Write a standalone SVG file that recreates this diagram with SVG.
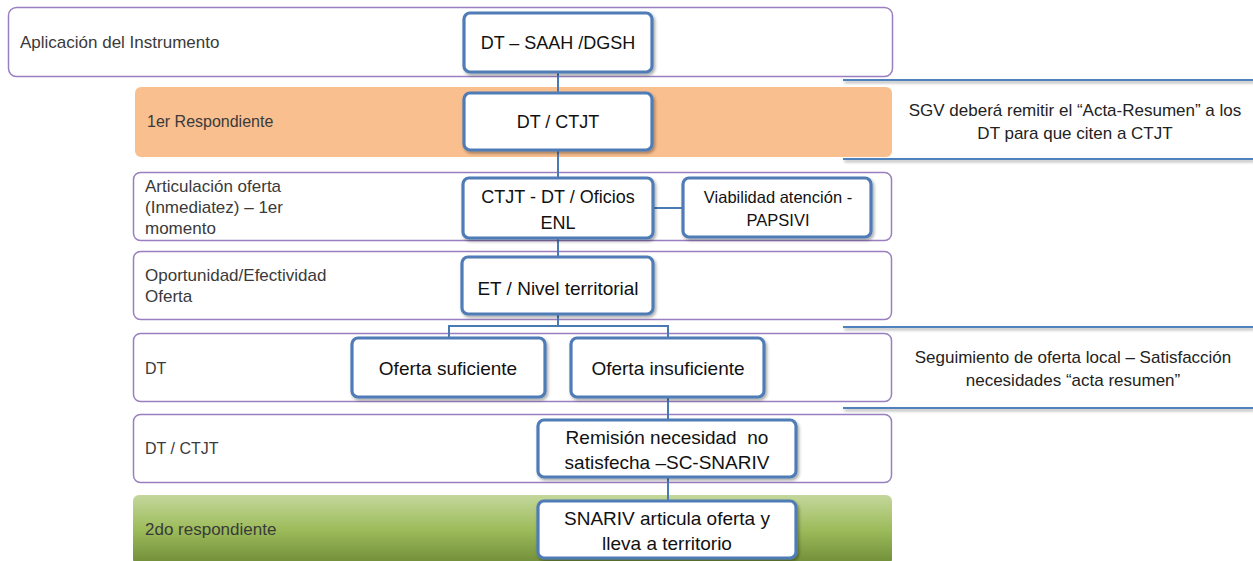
<svg xmlns="http://www.w3.org/2000/svg" width="1253" height="561" viewBox="0 0 1253 561">
<style>
.band{fill:#fff;stroke:#9a7fc0;stroke-width:1.5}
.lbl{font-family:"Liberation Sans",Arial,sans-serif;font-size:17px;fill:#3a3a3a}
.box{fill:#fff;stroke:#4f7cb6;stroke-width:3.2}
.bt{font-family:"Liberation Sans",Arial,sans-serif;font-size:19px;fill:#111;text-anchor:middle;white-space:pre}
.bs{font-size:18px}
.bv{font-size:16.5px}
.note{font-family:"Liberation Sans",Arial,sans-serif;font-size:17px;fill:#222;text-anchor:middle}
.con{fill:none;stroke:#4a7ab4;stroke-width:2}
.rl{stroke:#4f81bd;stroke-width:2.2}
</style>
<defs>
<filter id="sh" x="-10%" y="-10%" width="130%" height="140%">
<feDropShadow dx="1.5" dy="2" stdDeviation="1.5" flood-color="#000" flood-opacity="0.35"/>
</filter>
<linearGradient id="gr" x1="0" y1="0" x2="0" y2="1">
<stop offset="0" stop-color="#c4d79c"/>
<stop offset="0.5" stop-color="#9cbb5a"/>
<stop offset="1" stop-color="#6f8c37"/>
</linearGradient>
</defs>

<g id="band-aplicacion">
<rect class="band" x="8.5" y="7.5" width="884" height="69" rx="8"/>
<text class="lbl" x="20" y="48">Aplicación del Instrumento</text>
</g>
<g id="band-1er">
<rect x="135" y="87" width="757" height="70" rx="6" fill="#f9bf8f"/>
<text class="lbl" x="147" y="127" style="font-size:16px">1er Respondiente</text>
</g>
<g id="band-articulacion">
<rect class="band" x="133.5" y="172.5" width="758" height="68" rx="7"/>
<text class="lbl" x="145" y="192">Articulación oferta</text>
<text class="lbl" x="145" y="213">(Inmediatez) – 1er</text>
<text class="lbl" x="145" y="234">momento</text>
</g>
<g id="band-oportunidad">
<rect class="band" x="133.5" y="251.5" width="758" height="68" rx="7"/>
<text class="lbl" x="145" y="281">Oportunidad/Efectividad</text>
<text class="lbl" x="145" y="302">Oferta</text>
</g>
<g id="band-dt">
<rect class="band" x="133.5" y="333.5" width="758" height="68" rx="7"/>
<text class="lbl" x="145" y="374" style="font-size:16px">DT</text>
</g>
<g id="band-dtctjt">
<rect class="band" x="133.5" y="414.5" width="758" height="68" rx="7"/>
<text class="lbl" x="145" y="454" style="font-size:16px">DT / CTJT</text>
</g>
<g id="band-2do">
<rect x="133" y="495" width="759" height="70" rx="6" fill="url(#gr)"/>
<text class="lbl" x="145" y="535">2do respondiente</text>
</g>

<g id="connectors">
<line class="con" x1="558" y1="72" x2="558" y2="93"/>
<line class="con" x1="558" y1="150" x2="558" y2="178"/>
<line class="con" x1="653" y1="208" x2="683" y2="208"/>
<line class="con" x1="558" y1="238" x2="558" y2="257"/>
<polyline class="con" points="558,314 558,326"/>
<polyline class="con" points="449,338 449,326 668,326 668,338"/>
<line class="con" x1="668" y1="397" x2="668" y2="420"/>
<line class="con" x1="668" y1="477" x2="668" y2="501"/>
</g>

<g id="note-lines" filter="url(#sh)">
<line class="rl" x1="843" y1="80" x2="1253" y2="80"/>
<line class="rl" x1="843" y1="159" x2="1253" y2="159"/>
<line class="rl" x1="843" y1="327" x2="1253" y2="327"/>
<line class="rl" x1="843" y1="408" x2="1253" y2="408"/>
</g>
<g id="note-sgv">
<text class="note" x="1075" y="116">SGV deberá remitir el “Acta-Resumen” a los</text>
<text class="note" x="1075" y="139">DT para que citen a CTJT</text>
</g>
<g id="note-seguimiento">
<text class="note" x="1073" y="363">Seguimiento de oferta local – Satisfacción</text>
<text class="note" x="1073" y="386">necesidades “acta resumen”</text>
</g>

<g id="n-dt-saah">
<rect class="box" x="464" y="13" width="188" height="59" rx="6" filter="url(#sh)"/>
<text class="bt bs" x="558" y="49">DT – SAAH /DGSH</text>
</g>
<g id="n-dt-ctjt">
<rect class="box" x="464" y="93" width="188" height="57" rx="6" filter="url(#sh)"/>
<text class="bt bs" x="558" y="128">DT / CTJT</text>
</g>
<g id="n-ctjt-oficios">
<rect class="box" x="463" y="178" width="190" height="60" rx="6" filter="url(#sh)"/>
<text class="bt bs" x="558" y="203">CTJT - DT / Oficios</text>
<text class="bt bs" x="558" y="229">ENL</text>
</g>
<g id="n-viabilidad">
<rect class="box" x="683" y="178" width="188" height="59" rx="6" filter="url(#sh)"/>
<text class="bt bv" x="778" y="203">Viabilidad atención -</text>
<text class="bt bv" x="778" y="226">PAPSIVI</text>
</g>
<g id="n-et">
<rect class="box" x="462" y="257" width="191" height="57" rx="6" filter="url(#sh)"/>
<text class="bt" x="558" y="295">ET / Nivel territorial</text>
</g>
<g id="n-suficiente">
<rect class="box" x="352" y="338" width="193" height="59" rx="6" filter="url(#sh)"/>
<text class="bt" x="448" y="375">Oferta suficiente</text>
</g>
<g id="n-insuficiente">
<rect class="box" x="571" y="338" width="193" height="59" rx="6" filter="url(#sh)"/>
<text class="bt" x="668" y="375">Oferta insuficiente</text>
</g>
<g id="n-remision">
<rect class="box" x="538" y="420" width="258" height="57" rx="6" filter="url(#sh)"/>
<text class="bt" x="667" y="444">Remisión necesidad  no</text>
<text class="bt" x="667" y="469">satisfecha –SC-SNARIV</text>
</g>
<g id="n-snariv">
<rect class="box" x="538" y="501" width="258" height="57" rx="6" filter="url(#sh)"/>
<text class="bt" x="667" y="525">SNARIV articula oferta y</text>
<text class="bt" x="667" y="550">lleva a territorio</text>
</g>
</svg>
